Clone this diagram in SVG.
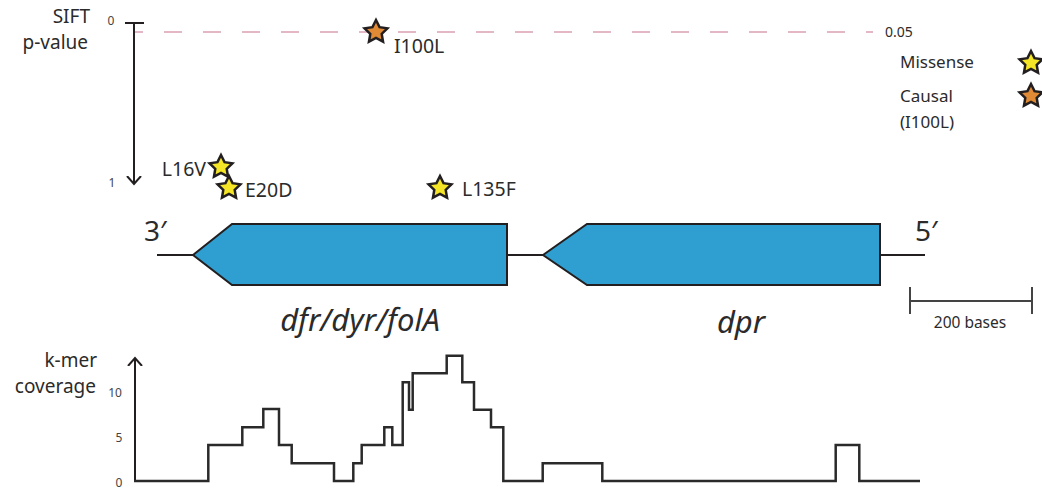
<svg xmlns="http://www.w3.org/2000/svg" width="1042" height="490" viewBox="0 0 1042 490">
<style>
text{font-family:"Noto Sans","Open Sans","Liberation Sans",sans-serif;fill:#2b2b2b}
.lbl{font-size:17px}
.mut{font-size:19.5px}
.title{font-size:19px}
.tick{font-size:12px;fill:#444}
.gene{fill:#2e9fd0;stroke:#231f20;stroke-width:2;stroke-linejoin:miter}
.line{stroke:#231f20;stroke-width:2;fill:none}
.gname{font-size:31px;font-style:italic}
.prime{font-size:28px}
.ys{fill:#f4e526;stroke:#231f20;stroke-width:2.5;stroke-linejoin:miter}
.os{fill:#e08a35;stroke:#231f20;stroke-width:2.5;stroke-linejoin:miter}
</style>
<defs>
<path id="star" d="M0,-12 L3.53,-4.85 L11.41,-3.71 L5.71,1.85 L7.05,9.71 L0,6 L-7.05,9.71 L-5.71,1.85 L-11.41,-3.71 L-3.53,-4.85 Z"/>
<marker id="chev" markerWidth="16" markerHeight="16" refX="8" refY="8" orient="auto" markerUnits="userSpaceOnUse">
<path d="M0,1 L8,8 L0,15" fill="none" stroke="#231f20" stroke-width="2"/>
</marker>
</defs>

<g id="sift-axis">
<text class="title" x="90" y="23" text-anchor="end">SIFT</text>
<text class="title" x="88" y="49" text-anchor="end">p-value</text>
<text class="tick" x="111" y="25" text-anchor="middle">0</text>
<text class="tick" x="112" y="187" text-anchor="middle">1</text>
<line x1="125" y1="23" x2="144" y2="23" class="line"/>
<line x1="134" y1="23" x2="134" y2="184" class="line" marker-end="url(#chev)"/>
</g>

<g id="threshold">
<line x1="135" y1="32" x2="873" y2="32" stroke="#dba0b2" stroke-width="1.5" stroke-dasharray="18 21" stroke-dashoffset="10"/>
<text x="885" y="37" font-size="14" fill="#444">0.05</text>
</g>

<g id="legend">
<text class="lbl" x="900" y="68">Missense</text>
<use href="#star" x="1031" y="63" class="ys"/>
<text class="lbl" x="900" y="102">Causal</text>
<text class="lbl" x="900" y="128">(I100L)</text>
<use href="#star" x="1031" y="96" class="os"/>
</g>

<g id="mut-I100L">
<use href="#star" x="376" y="32" class="os"/>
<text class="mut" x="394" y="53">I100L</text>
</g>
<g id="mut-L16V">
<use href="#star" x="221" y="167" class="ys"/>
<text class="mut" x="206" y="176" text-anchor="end">L16V</text>
</g>
<g id="mut-E20D">
<use href="#star" x="229" y="188" class="ys"/>
<text class="mut" x="245" y="197">E20D</text>
</g>
<g id="mut-L135F">
<use href="#star" x="440" y="188" class="ys"/>
<text class="mut" x="462" y="196">L135F</text>
</g>

<g id="connectors">
<line x1="157" y1="255" x2="194" y2="255" class="line"/>
<line x1="507" y1="255" x2="543" y2="255" class="line"/>
<line x1="880" y1="255" x2="925" y2="255" class="line"/>
</g>

<g id="end3">
<text class="prime" x="144" y="241">3′</text>
</g>
<g id="end5">
<text class="prime" x="915" y="241">5′</text>
</g>

<g id="gene-dfr">
<polygon class="gene" points="193,255 232,224 507,224 507,285 232,285"/>
<text class="gname" x="360" y="331" text-anchor="middle">dfr/dyr/folA</text>
</g>
<g id="gene-dpr">
<polygon class="gene" points="543,255 587,224 880,224 880,285 587,285"/>
<text class="gname" x="741" y="333" text-anchor="middle">dpr</text>
</g>

<g id="scalebar">
<line x1="910" y1="301" x2="1032" y2="301" stroke="#444" stroke-width="2"/>
<line x1="910" y1="287" x2="910" y2="314" stroke="#444" stroke-width="2"/>
<line x1="1032" y1="287" x2="1032" y2="314" stroke="#444" stroke-width="2"/>
<text x="970" y="328" text-anchor="middle" font-size="15.5">200 bases</text>
</g>

<g id="coverage-axis">
<text class="title" x="97" y="367" text-anchor="end">k-mer</text>
<text class="title" x="96" y="393" text-anchor="end">coverage</text>
<text class="tick" x="115" y="397" text-anchor="middle">10</text>
<text class="tick" x="119" y="442" text-anchor="middle">5</text>
<text class="tick" x="119" y="487" text-anchor="middle">0</text>
<line x1="135" y1="482" x2="135" y2="358" class="line" marker-end="url(#chev)"/>
</g>

<g id="coverage">
<path d="M134,481 H208.3 V445 H242.3 V427.3 H263.3 V409 H279 V445 H291.7 V463.3 H334 V481 H353.3 V463.3 H361.7 V445 H384.3 V427.3 H392.3 V445 H402.7 V382.3 H409 V409.7 H412.7 V373.3 H446.7 V355.7 H462.3 V382.3 H474 V409.7 H491 V427.3 H503.3 V481 H542.7 V463.3 H602.3 V481 H835.7 V445 H859.3 V481 H920" fill="none" stroke="#2a2a2a" stroke-width="2.5"/>
</g>
</svg>
